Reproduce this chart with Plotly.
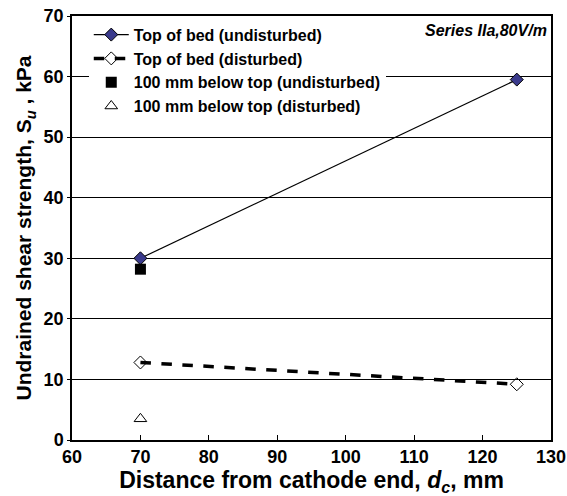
import plotly.graph_objects as go

x_top = [70, 125]
top_undisturbed = [30.0, 59.5]
top_disturbed = [12.8, 9.2]
x_below = [70]
below_undisturbed = [28.2]
below_disturbed = [3.5]

FONT = "Liberation Sans, Arial, sans-serif"

fig = go.Figure()
fig.add_trace(go.Scatter(x=x_top, y=top_undisturbed, mode="lines+markers",
    name="<b>Top of bed (undisturbed)</b>",
    line=dict(color="black", width=1.2),
    marker=dict(symbol="diamond", size=10, color="#3a3a8c", line=dict(color="black", width=1))))
fig.add_trace(go.Scatter(x=x_top, y=top_disturbed, mode="lines+markers",
    name="<b>Top of bed (disturbed)</b>",
    line=dict(color="black", width=3.5, dash="dash"),
    marker=dict(symbol="diamond-open", size=10, color="black", line=dict(width=1))))
fig.add_trace(go.Scatter(x=x_below, y=below_undisturbed, mode="markers",
    name="<b>100 mm below top (undisturbed)</b>",
    marker=dict(symbol="square", size=11, color="black")))
fig.add_trace(go.Scatter(x=x_below, y=below_disturbed, mode="markers",
    name="<b>100 mm below top (disturbed)</b>",
    marker=dict(symbol="triangle-up-open", size=11, color="black", line=dict(width=1))))

fig.add_annotation(text="<b><i>Series IIa,80V/m</i></b>", xref="paper", yref="paper",
    x=0.995, y=0.99, xanchor="right", yanchor="top", showarrow=False,
    font=dict(family=FONT, size=16, color="black"))

fig.update_layout(
    width=567, height=496,
    margin=dict(l=72, r=16, t=16, b=56),
    paper_bgcolor="white", plot_bgcolor="white",
    font=dict(family=FONT, color="black"),
    showlegend=True,
    legend=dict(x=0.035, y=0.996, xanchor="left", yanchor="top",
        bgcolor="white", borderwidth=0,
        font=dict(family=FONT, size=16, color="black"),
        itemwidth=35, tracegroupgap=0),
    xaxis=dict(range=[60, 130], dtick=10, showgrid=False, zeroline=False,
        showline=True, linecolor="black", linewidth=1.5, mirror=True,
        ticks="inside", ticklen=5, tickcolor="black", automargin=False,
        tickprefix="<b>", ticksuffix="</b>",
        tickfont=dict(family=FONT, size=18, color="black"),
        title=dict(text="<b>Distance from cathode end, <i>d<sub>c</sub></i>, mm</b>",
            font=dict(family=FONT, size=23, color="black"), standoff=12)),
    yaxis=dict(range=[0, 70], dtick=10, showgrid=True, gridcolor="black", gridwidth=1,
        zeroline=False, showline=True, linecolor="black", linewidth=1.5, mirror=True,
        ticks="outside", ticklen=3, tickcolor="black", automargin=False,
        tickprefix="<b>", ticksuffix="</b>",
        tickfont=dict(family=FONT, size=18, color="black"),
        title=dict(text="<b>Undrained shear strength, S<sub><i>u</i></sub> , kPa</b>",
            font=dict(family=FONT, size=21, color="black"), standoff=6)),
)

fig.write_html("out.html")
